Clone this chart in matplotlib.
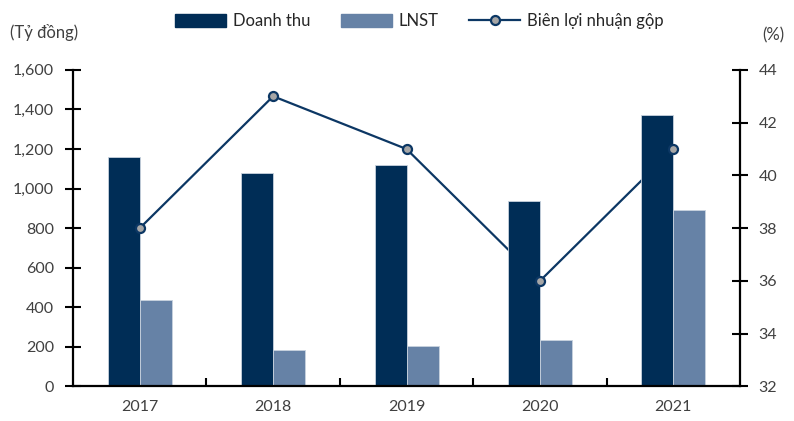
import matplotlib
matplotlib.use('Agg')
import matplotlib.pyplot as plt
from matplotlib.lines import Line2D
from matplotlib.patches import Patch
import numpy as np

plt.rcParams['font.family'] = ['Lato', 'Noto Sans', 'DejaVu Sans']

years = ['2017', '2018', '2019', '2020', '2021']
doanh_thu = [1160, 1080, 1120, 937, 1370]
lnst = [435, 183, 205, 235, 890]
bien_ln = [38, 43, 41, 36, 41]

DARK = '#002d56'
LIGHT = '#6682a6'
LINE = '#0c3764'
TXT = '#404040'

fig = plt.figure(figsize=(7.94, 4.21), dpi=100)
ax = fig.add_axes([0.092, 0.082, 0.840, 0.752])
ax2 = ax.twinx()
# line goes behind the bars
ax.set_zorder(ax2.get_zorder() + 1)
ax.patch.set_visible(False)

x = np.arange(len(years))
w = 0.24
ax.bar(x - w / 2, doanh_thu, w, color=DARK, edgecolor='#c8d2de', linewidth=0.6, zorder=2)
ax.bar(x + w / 2, lnst, w, color=LIGHT, edgecolor='#c8d2de', linewidth=0.6, zorder=2)

ax2.plot(x, bien_ln, color=LINE, lw=1.6)
# markers on top of bars
ax.plot(x, bien_ln, 'o', transform=ax2.transData, ms=6.5, mfc='#a6a6a6',
        mec=LINE, mew=1.6, zorder=5, clip_on=False)

ax.set_xlim(-0.5, 4.5)
ax.set_ylim(0, 1600)
ax.set_yticks(range(0, 1601, 200))
ax.set_yticklabels([f'{v:,}' for v in range(0, 1601, 200)])
ax2.set_ylim(32, 44)
ax2.set_yticks(range(32, 45, 2))

ax.set_xticks(x)
ax.set_xticklabels(years)
ax.set_xticks(np.arange(0.5, 4.5, 1), minor=True)

for a in (ax, ax2):
    a.spines['top'].set_visible(False)
    for s in a.spines.values():
        s.set_linewidth(1.6)
        s.set_color('black')
ax.spines['right'].set_visible(False)
ax2.spines['left'].set_visible(False)
ax2.spines['bottom'].set_visible(False)

ax.tick_params(axis='y', direction='inout', length=11, width=1.5, labelsize=11.5,
               labelcolor=TXT, pad=8)
ax2.tick_params(axis='y', direction='inout', length=11, width=1.5, labelsize=11.5,
                labelcolor=TXT, pad=8)
ax.tick_params(axis='x', which='major', length=0, labelsize=11.5, labelcolor=TXT, pad=10)
ax.tick_params(axis='x', which='minor', direction='in', length=6, width=1.5)

fig.text(0.012, 0.922, '(Tỷ đồng)', fontsize=12, color=TXT, ha='left', va='center')
fig.text(0.988, 0.915, '(%)', fontsize=12, color=TXT, ha='right', va='center')

handles = [Patch(color=DARK), Patch(color=LIGHT),
           Line2D([], [], color=LINE, lw=1.6, marker='o', ms=6.5, mfc='#a6a6a6',
                  mec=LINE, mew=1.6)]
fig.legend(handles, ['Doanh thu', 'LNST', 'Biên lợi nhuận gộp'], loc='center',
           bbox_to_anchor=(0.528, 0.95), ncol=3, frameon=False, fontsize=12,
           handlelength=3.05, handleheight=0.8, handletextpad=0.4, columnspacing=1.85,
           labelcolor='#262626')

fig.savefig('out.png', dpi=100)
